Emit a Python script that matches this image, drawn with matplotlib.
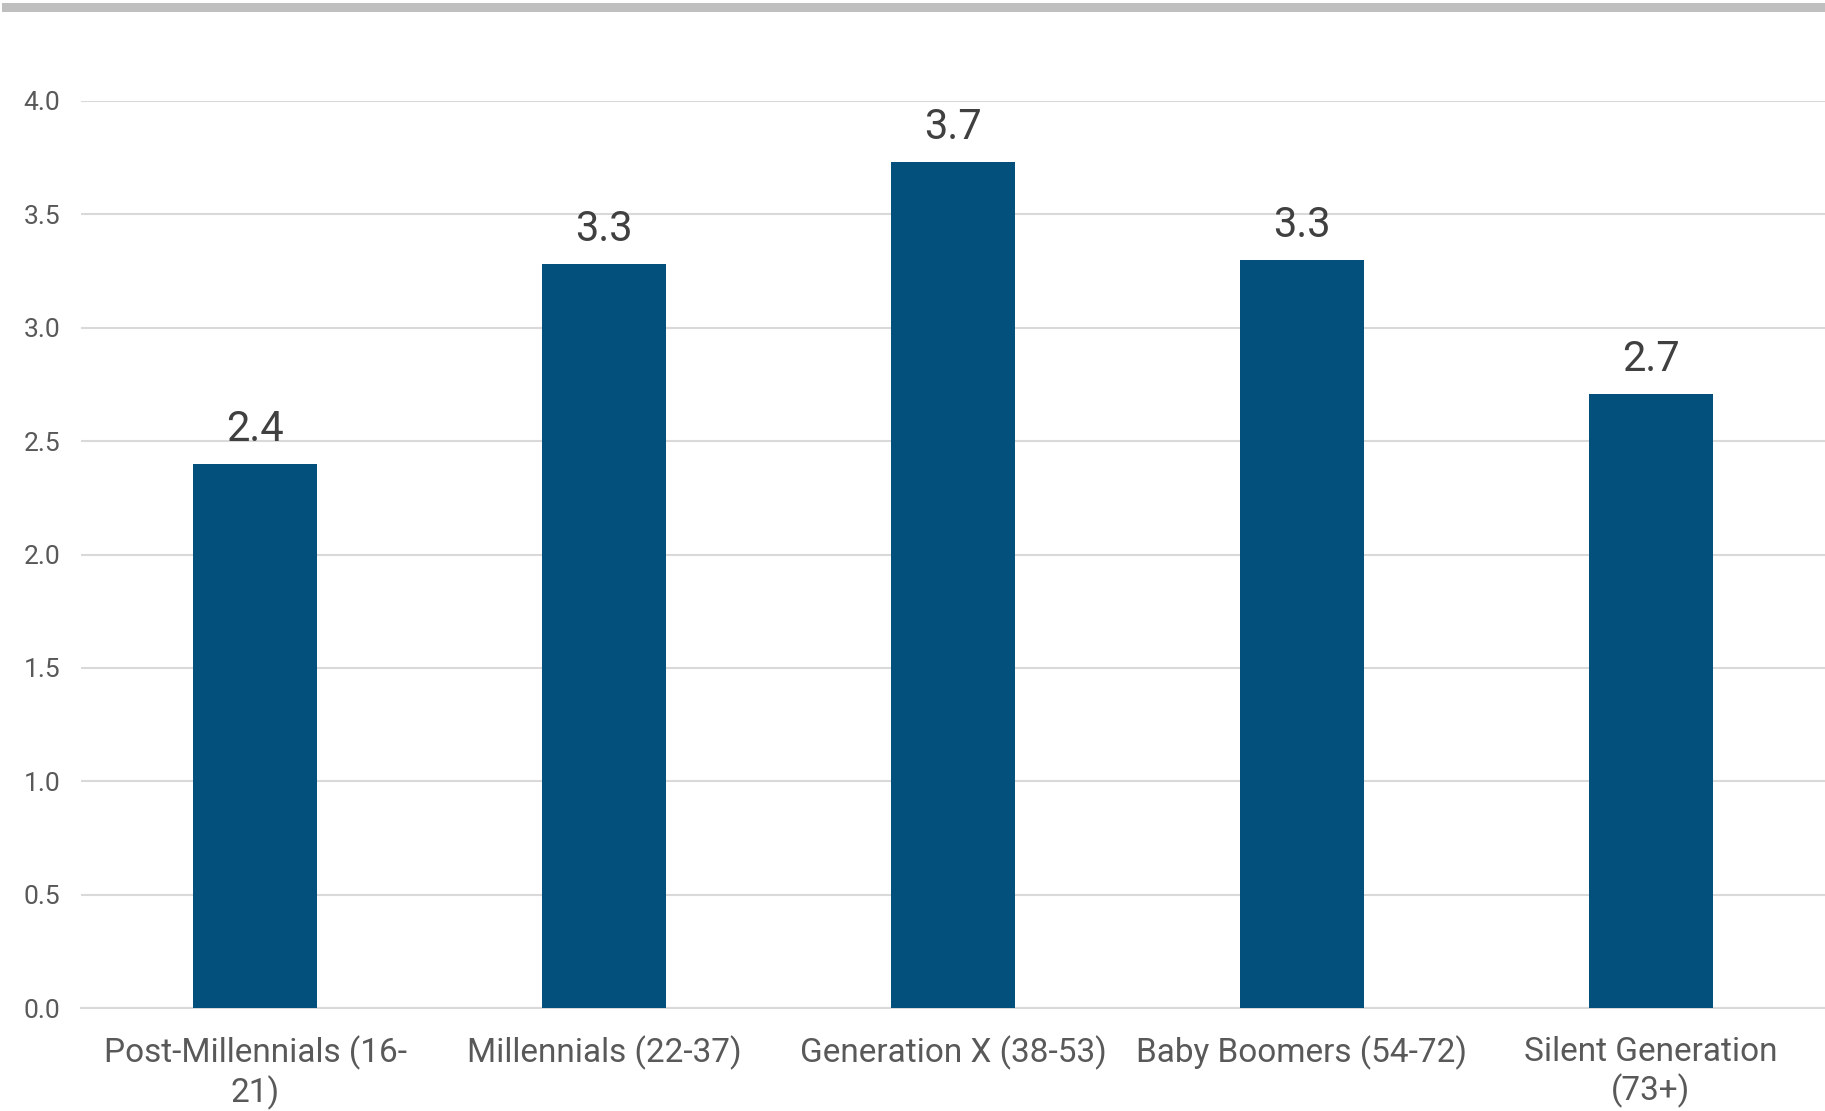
import matplotlib
matplotlib.use("Agg")
import matplotlib.pyplot as plt
from matplotlib.patches import Rectangle

categories = ["Post-Millennials (16-\n21)", "Millennials (22-37)", "Generation X (38-53)",
              "Baby Boomers (54-72)", "Silent Generation\n(73+)"]
values = [2.4, 3.28, 3.73, 3.3, 2.71]
labels = ["2.4", "3.3", "3.7", "3.3", "2.7"]
yticks = [0.0, 0.5, 1.0, 1.5, 2.0, 2.5, 3.0, 3.5, 4.0]

plt.rcParams['font.family'] = ['Roboto', 'DejaVu Sans']

fig = plt.figure(figsize=(18.25, 11.11), dpi=100)
ax = fig.add_axes([81/1825, 1 - 1008/1111, 1 - 81/1825, (1008 - 101)/1111])

fig.patches.append(Rectangle((0.001, 1 - 12/1111), 0.999, 9/1111, transform=fig.transFigure,
                             facecolor="#BFBFBF", edgecolor="none"))

x = range(len(categories))
bars = ax.bar(x, values, width=0.356, color="#03507C", zorder=3)
for xi, v, lab in zip(x, values, labels):
    ax.annotate(lab, (xi, v), xytext=(0, 10), textcoords="offset points",
                ha="center", va="bottom", fontsize=30, color="#404040")

ax.set_xlim(-0.5, 4.5)
ax.set_ylim(0, 4.0)
ax.set_yticks(yticks)
ax.set_yticklabels([f"{t:.1f}" for t in yticks])
ax.set_xticks(list(x))
ax.set_xticklabels(categories, fontsize=24, color="#595959", linespacing=1.2)
ax.tick_params(axis="y", length=0, pad=15, labelsize=19, labelcolor="#595959")
ax.tick_params(axis="x", length=0, pad=20)
ax.grid(axis="y", color="#D9D9D9", linewidth=1.5, zorder=0)
for s in ["top", "right", "left"]:
    ax.spines[s].set_visible(False)
ax.spines["bottom"].set_color("#D9D9D9")
ax.spines["bottom"].set_linewidth(1.5)
ax.set_axisbelow(True)

fig.savefig("out.png", dpi=100)
